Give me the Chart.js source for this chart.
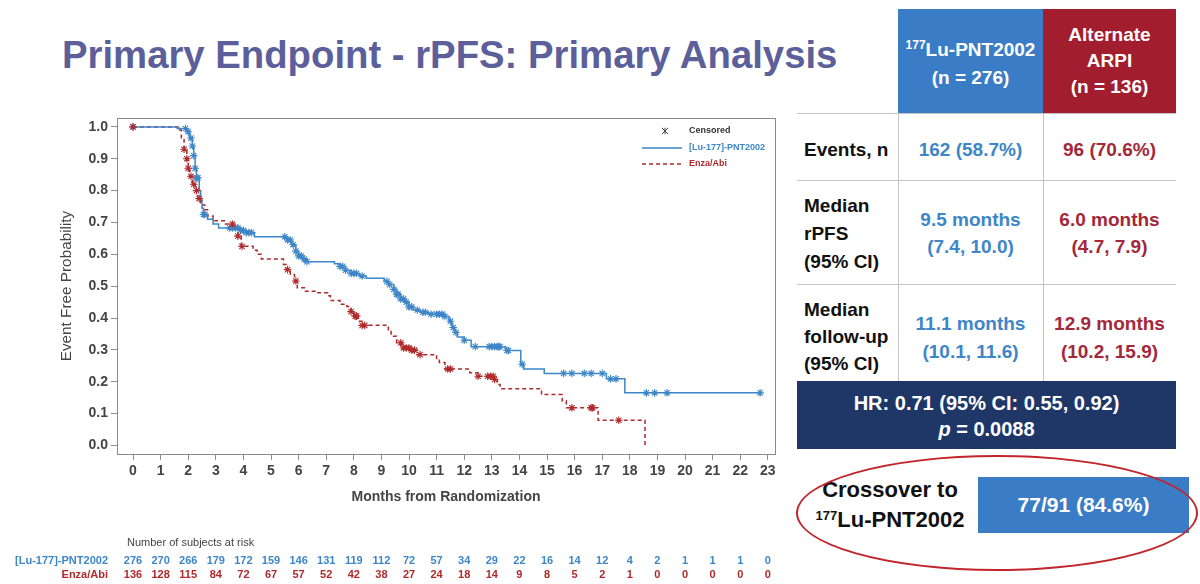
<!DOCTYPE html>
<html>
<head>
<meta charset="utf-8">
<script src="https://cdn.jsdelivr.net/npm/chart.js@4.4.0/dist/chart.umd.min.js"></script>
<style>
  body { margin: 0; width: 1200px; height: 584px; background: #fff; position: relative; overflow: hidden;
         font-family: "Liberation Sans", Arial, sans-serif; }
  .abs { position: absolute; }
  #title { left: 62px; top: 33px; font-size: 38.3px; font-weight: bold; color: #5c5f99; white-space: nowrap; }
  #wrap { left: 0; top: 0; width: 790px; height: 584px; }
  .hdr { color: #fff; font-weight: bold; font-size: 19px; text-align: center; }
  .lbl { left: 804px; color: #111; font-size: 19px; font-weight: bold; }
  .val { font-size: 19px; font-weight: bold; text-align: center; }
  .blue { color: #3d86c8; }
  .red { color: #a3283a; }
  .hline { height: 1px; background: #c4c4c4; left: 797px; width: 379px; }
  .vline { width: 1px; background: #c4c4c4; top: 113px; height: 268px; }
  sup { font-size: 12px; line-height: 0; vertical-align: 7px; }
</style>
</head>
<body>
<div id="title" class="abs">Primary Endpoint - rPFS: Primary Analysis</div>

<div class="abs" id="wrap"><canvas id="km"></canvas></div>

<!-- right hand table -->
<div class="abs" style="left:898px;top:9px;width:145px;height:104px;background:#3a7dc6"></div>
<div class="abs" style="left:1043px;top:9px;width:133px;height:104px;background:#a21d2d"></div>
<div class="abs hdr" style="left:898px;top:36px;width:145px;line-height:28px"><sup>177</sup>Lu-PNT2002<br>(n = 276)</div>
<div class="abs hdr" style="left:1043px;top:22px;width:133px;line-height:26px">Alternate<br>ARPI<br>(n = 136)</div>

<div class="abs hline" style="top:113px"></div>
<div class="abs hline" style="top:180px"></div>
<div class="abs hline" style="top:284px"></div>
<div class="abs vline" style="left:898px"></div>
<div class="abs vline" style="left:1043px"></div>

<div class="abs lbl" style="top:137px;line-height:26px">Events, n</div>
<div class="abs val blue" style="left:898px;width:145px;top:137px;line-height:26px">162 (58.7%)</div>
<div class="abs val red" style="left:1043px;width:133px;top:137px;line-height:26px">96 (70.6%)</div>

<div class="abs lbl" style="top:192px;line-height:28px">Median<br>rPFS<br>(95% CI)</div>
<div class="abs val blue" style="left:898px;width:145px;top:206px;line-height:27px">9.5 months<br>(7.4, 10.0)</div>
<div class="abs val red" style="left:1043px;width:133px;top:206px;line-height:27px">6.0 months<br>(4.7, 7.9)</div>

<div class="abs lbl" style="top:296px;line-height:27px">Median<br>follow-up<br>(95% CI)</div>
<div class="abs val blue" style="left:898px;width:145px;top:310px;line-height:28px">11.1 months<br>(10.1, 11.6)</div>
<div class="abs val red" style="left:1043px;width:133px;top:310px;line-height:28px">12.9 months<br>(10.2, 15.9)</div>

<div class="abs" style="left:797px;top:381px;width:379px;height:68px;background:#1f3767"></div>
<div class="abs hdr" style="left:797px;top:390px;width:379px;font-size:20px;line-height:26px">HR: 0.71 (95% CI: 0.55, 0.92)<br><i>p</i> = 0.0088</div>

<div class="abs" style="left:978px;top:477px;width:211px;height:56px;background:#3a7dc6"></div>
<div class="abs hdr" style="left:978px;top:477px;width:211px;font-size:21px;line-height:56px">77/91 (84.6%)</div>
<div class="abs" style="left:790px;top:475px;width:200px;text-align:center;font-size:22px;font-weight:bold;line-height:30px;color:#111">Crossover to<br><sup style="font-size:13px">177</sup>Lu-PNT2002</div>
<div class="abs" style="left:796px;top:455px;width:398px;height:112px;border:2px solid #c2262c;border-radius:50%"></div>

<script>
// axis ticks
const xTicks = [0,1,2,3,4,5,6,7,8,9,10,11,12,13,14,15,16,17,18,19,20,21,22,23]
const yTicks = [0,0.1,0.2,0.3,0.4,0.5,0.6,0.7,0.8,0.9,1.0]

// numbers at risk at each month
const atRiskPNT = [276,270,266,179,172,159,146,131,119,112,72,57,34,29,22,16,14,12,4,2,1,1,1,0]
const atRiskEnza = [136,128,115,84,72,67,57,52,42,38,27,24,18,14,9,8,5,2,1,0,0,0,0,0]

// KM steps, [Lu-177]-PNT2002 (time in months, survival after the step)
const pntTimes = [0,1.6,1.95,2.05,2.15,2.2,2.25,2.3,2.4,2.45,2.5,2.55,2.7,2.9,3.1,3.9,4.1,4.4,5.6,5.75,5.9,6.0,6.15,6.3,
  7.3,7.5,7.7,7.9,8.2,8.45,9.1,9.25,9.45,9.55,9.7,9.85,10.0,10.15,10.4,10.7,11.3,11.45,11.55,11.65,11.75,12.0,12.25,
  13.5,14.05,14.15,14.9,17.15,17.82,22.76]
const pntSurv = [1.0,0.995,0.985,0.965,0.94,0.91,0.87,0.84,0.80,0.77,0.745,0.725,0.71,0.695,0.683,0.675,0.668,0.655,0.645,0.63,0.61,0.595,0.585,0.577,
  0.57,0.562,0.55,0.54,0.532,0.525,0.515,0.505,0.49,0.475,0.46,0.45,0.435,0.425,0.418,0.412,0.405,0.39,0.37,0.355,0.34,0.33,0.31,
  0.298,0.255,0.24,0.226,0.209,0.165,0.165]
const pntCensor = [0,1.9,2.0,2.1,2.15,2.2,2.25,2.3,2.35,2.55,2.6,3.5,3.6,3.7,3.8,3.9,4.0,4.1,4.2,4.3,5.5,5.6,5.7,5.8,5.9,6.0,6.1,6.2,6.3,
  7.5,7.6,7.7,7.9,8.0,8.1,8.3,9.2,9.3,9.45,9.55,9.6,9.7,9.8,9.9,10.0,10.1,10.3,10.5,10.6,10.8,11.0,11.1,11.2,11.3,11.5,11.6,11.7,
  12.0,12.4,12.9,13.0,13.1,13.2,13.25,13.3,13.55,13.6,14.1,15.6,15.9,16.35,16.6,17.0,17.3,17.5,18.6,18.9,19.35,22.72]

// KM steps, Enza/Abi
const enzaTimes = [0,1.65,1.75,1.85,1.95,2.0,2.05,2.15,2.25,2.35,2.45,2.6,2.7,2.9,3.35,3.65,3.8,3.92,4.35,4.5,4.65,5.45,5.55,5.7,5.85,5.95,
  6.25,6.7,7.05,7.15,7.5,7.75,7.9,8.0,8.15,8.3,9.25,9.35,9.55,9.75,10.05,10.3,11.0,11.1,11.3,12.2,12.5,13.1,13.2,13.3,
  14.8,15.55,15.7,16.85,18.55]
const enzaSurv = [1.0,0.99,0.96,0.93,0.90,0.87,0.845,0.82,0.80,0.775,0.755,0.74,0.72,0.705,0.695,0.688,0.657,0.625,0.613,0.60,0.585,0.568,0.552,0.537,0.516,0.495,
  0.484,0.479,0.47,0.455,0.443,0.436,0.42,0.406,0.39,0.377,0.36,0.343,0.322,0.306,0.299,0.285,0.27,0.26,0.24,0.228,0.217,0.207,0.191,0.178,
  0.16,0.14,0.118,0.079,0.0]
const enzaCensor = [0,1.85,1.95,2.0,2.1,2.2,2.3,2.4,3.6,3.8,3.95,5.6,5.9,7.9,8.05,8.1,8.3,8.4,9.7,9.8,9.9,10.0,10.1,10.2,10.4,
  11.4,11.5,12.5,12.85,12.95,13.05,13.1,15.9,16.6,16.65,17.6]

const blue = '#3d86c8'
const red = '#b02a2c'
const fam = '"Liberation Sans", Arial, sans-serif'

function stepPoints(times, surv) {
    return times.map((t, i) => ({x: t, y: surv[i]}))
}

// value of the step curve at time t
function survAt(times, surv, t) {
    let s = surv[0]
    for (let i = 0; i < times.length; i++) {
        if (times[i] <= t) s = surv[i]
    }
    return s
}

function censorPoints(times, surv, cens) {
    return cens.map(t => ({x: t, y: survAt(times, surv, t)}))
}

// frame, legend and the at-risk table
const extras = {
    id: 'extras',
    afterDraw(chart) {
        const {ctx, chartArea: a, scales} = chart
        const x = scales.x
        ctx.save()
        ctx.strokeStyle = '#8a8a8a'
        ctx.lineWidth = 1
        ctx.strokeRect(Math.round(a.left) + 0.5, Math.round(a.top) + 0.5, Math.round(a.right - a.left), Math.round(a.bottom - a.top))

        // legend
        const lx = a.right - 133, ly = a.top + 13
        ctx.font = 'bold 9px ' + fam
        ctx.textBaseline = 'middle'
        ctx.textAlign = 'left'
        ctx.strokeStyle = '#444'
        ctx.lineWidth = 1
        const r = 3.2, cx = lx + 23, cy = ly
        ctx.beginPath()
        ctx.moveTo(cx - r, cy - r); ctx.lineTo(cx + r, cy + r)
        ctx.moveTo(cx + r, cy - r); ctx.lineTo(cx - r, cy + r)
        ctx.moveTo(cx, cy - r); ctx.lineTo(cx, cy + r)
        ctx.stroke()
        ctx.fillStyle = '#333'
        ctx.fillText('Censored', lx + 47, ly)
        const items = chart.data.datasets.filter(d => d.legendEntry)
        items.forEach((d, i) => {
            const yy = ly + 17 + i * 16
            ctx.strokeStyle = d.borderColor
            ctx.lineWidth = 1.5
            ctx.setLineDash(d.borderDash || [])
            ctx.beginPath()
            ctx.moveTo(lx, yy); ctx.lineTo(lx + 40, yy)
            ctx.stroke()
            ctx.setLineDash([])
            ctx.fillStyle = d.borderColor
            ctx.fillText(d.label, lx + 47, yy)
        })

        // number of subjects at risk
        ctx.font = '11px ' + fam
        ctx.fillStyle = '#444'
        ctx.textAlign = 'left'
        ctx.fillText('Number of subjects at risk', 127, 543)
        const rows = [
            {name: '[Lu-177]-PNT2002', vals: atRiskPNT, color: blue, y: 561},
            {name: 'Enza/Abi', vals: atRiskEnza, color: red, y: 575}
        ]
        ctx.font = 'bold 11px ' + fam
        rows.forEach(row => {
            ctx.fillStyle = row.color
            ctx.textAlign = 'right'
            ctx.fillText(row.name, 108, row.y)
            ctx.textAlign = 'center'
            row.vals.forEach((v, i) => ctx.fillText(String(v), x.getPixelForValue(xTicks[i]), row.y))
        })
        ctx.restore()
    }
}

const tickFont = {family: fam, size: 14, weight: 'bold'}

const myChart = new Chart(document.getElementById('km'), {
    type: 'line',
    data: {
        datasets: [
            {
                label: 'Enza/Abi censored',
                data: censorPoints(enzaTimes, enzaSurv, enzaCensor),
                showLine: false, pointStyle: 'star', pointRadius: 3.8,
                borderColor: red, backgroundColor: red, pointBorderWidth: 1.1
            },
            {
                label: '[Lu-177]-PNT2002 censored',
                data: censorPoints(pntTimes, pntSurv, pntCensor),
                showLine: false, pointStyle: 'star', pointRadius: 3.8,
                borderColor: blue, backgroundColor: blue, pointBorderWidth: 1.1
            },
            {
                label: '[Lu-177]-PNT2002', legendEntry: true,
                data: stepPoints(pntTimes, pntSurv),
                stepped: true, borderColor: blue, borderWidth: 1.5, pointRadius: 0, fill: false
            },
            {
                label: 'Enza/Abi', legendEntry: true,
                data: stepPoints(enzaTimes, enzaSurv),
                stepped: true, borderColor: red, borderWidth: 1.5, borderDash: [4, 3], pointRadius: 0, fill: false
            }
        ]
    },
    options: {
        responsive: true,
        maintainAspectRatio: false,
        animation: false,
        layout: {padding: {left: 50, top: 118, right: 15, bottom: 77}},
        plugins: {legend: {display: false}, tooltip: {enabled: false}},
        scales: {
            x: {
                type: 'linear', min: -0.58, max: 23.26,
                afterBuildTicks: s => { s.ticks = xTicks.map(v => ({value: v})) },
                afterFit: s => { s.height = 53 },
                grid: {drawOnChartArea: false, tickLength: 6, color: '#8a8a8a'},
                border: {color: '#8a8a8a'},
                ticks: {color: '#444', font: tickFont, padding: 3, maxRotation: 0, autoSkip: false},
                title: {display: true, text: 'Months from Randomization', color: '#444',
                        font: {family: fam, size: 14, weight: 'bold'},
                        padding: {top: 0, bottom: 1}}
            },
            y: {
                type: 'linear', min: -0.027, max: 1.028,
                afterBuildTicks: s => { s.ticks = yTicks.map(v => ({value: v})) },
                afterFit: s => { s.width = 67 },
                grid: {drawOnChartArea: false, tickLength: 6, color: '#8a8a8a'},
                border: {color: '#8a8a8a'},
                ticks: {color: '#444', font: tickFont, padding: 3, callback: v => v.toFixed(1)},
                title: {display: true, text: 'Event Free Probability', color: '#444',
                        font: {family: fam, size: 15.3},
                        padding: {top: 8, bottom: 0}}
            }
        }
    },
    plugins: [extras]
})
</script>
</body>
</html>
